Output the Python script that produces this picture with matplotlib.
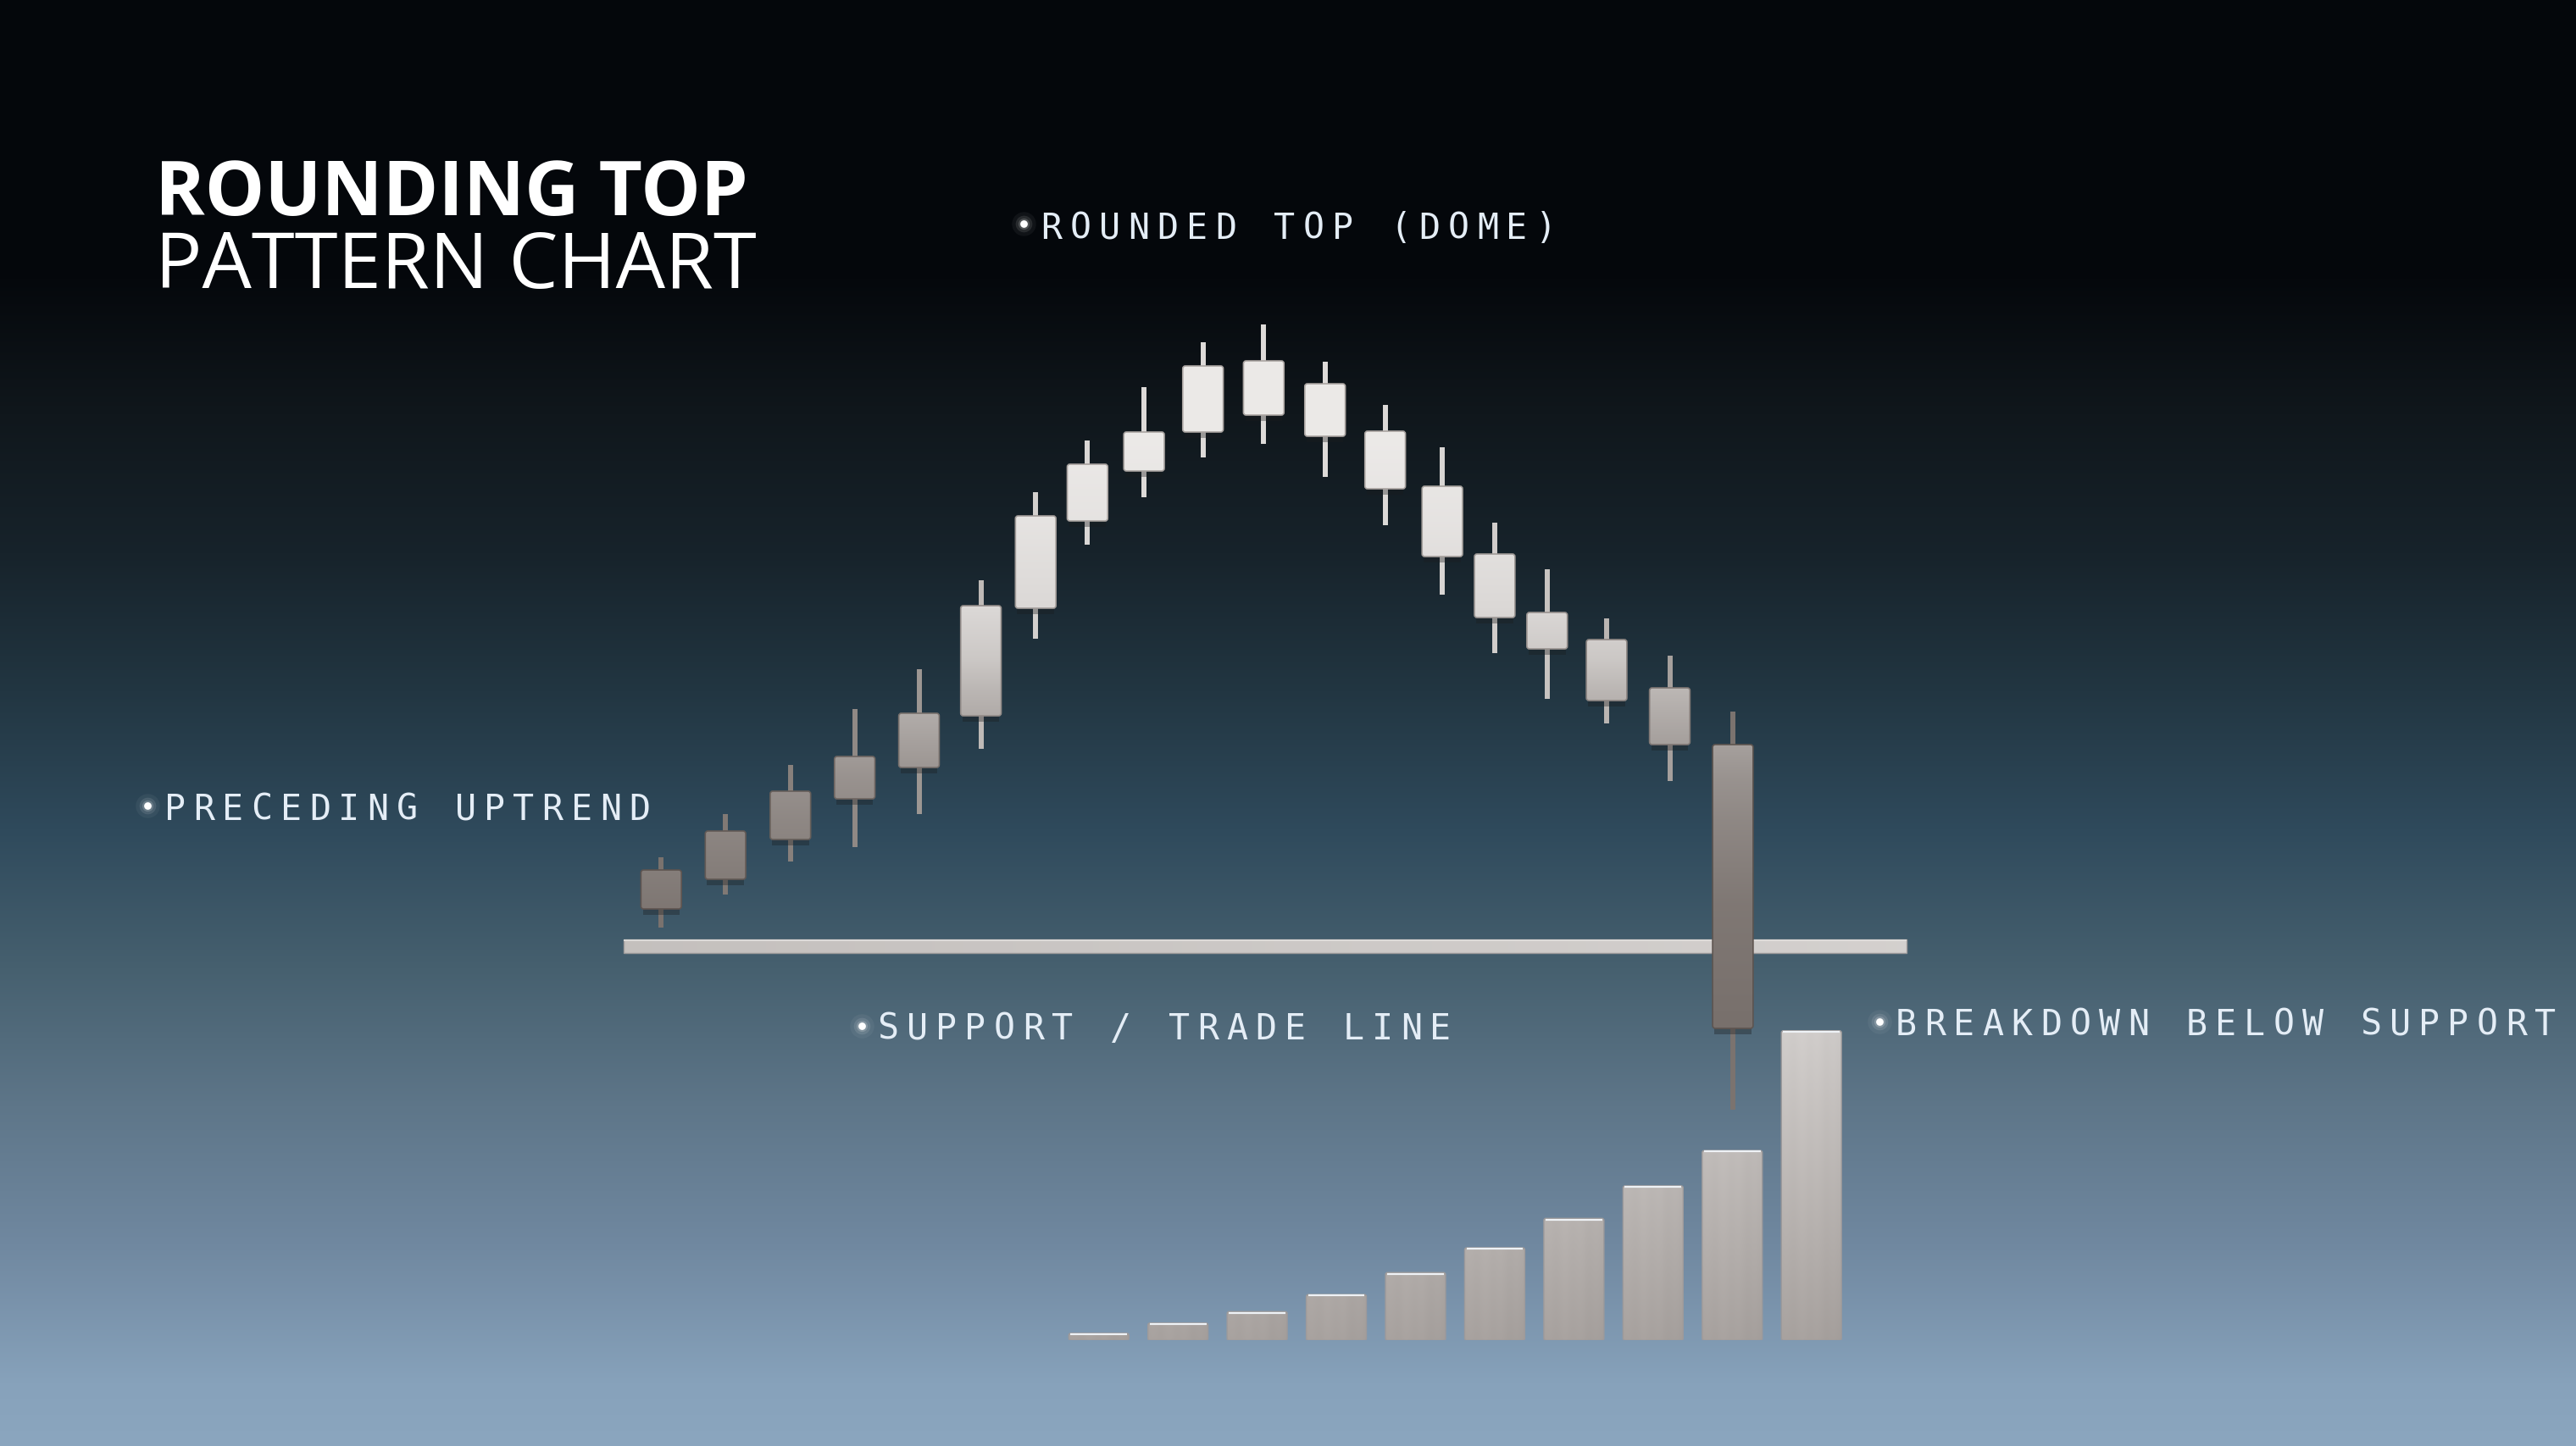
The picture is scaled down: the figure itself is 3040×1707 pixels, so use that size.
import numpy as np
import matplotlib
matplotlib.use("Agg")
import matplotlib.pyplot as plt
from matplotlib.patches import FancyBboxPatch, Rectangle

W, H, DPI = 3040, 1708, 100

# price candles: session position, open, high, low, close
session = [0.0, 1.08, 2.17, 3.25, 4.33, 5.37, 6.29, 7.16, 8.11, 9.10,
           10.12, 11.15, 12.16, 13.12, 14.0, 14.88, 15.88, 16.94, 18.0]
opens = [104.4, 107.9, 112.6, 117.4, 121.1, 127.2, 139.9, 150.2, 156.1, 160.7,
         169.1, 166.4, 160.8, 154.3, 146.3, 139.4, 136.2, 130.5, 123.8]
highs = [110.5, 115.6, 121.4, 128.0, 132.7, 143.2, 153.6, 159.7, 166.0, 171.3,
         173.4, 169.0, 163.9, 158.9, 150.0, 144.5, 138.7, 134.3, 127.7]
lows = [102.2, 106.1, 110.0, 111.7, 115.6, 123.3, 136.3, 147.4, 153.0, 157.7,
        159.3, 155.4, 149.7, 141.5, 134.6, 129.2, 126.3, 119.5, 80.7]
closes = [109.0, 113.6, 118.3, 122.4, 127.5, 140.2, 150.8, 156.9, 160.7, 168.5,
          162.7, 160.2, 154.0, 146.0, 138.8, 135.1, 129.0, 123.8, 90.3]

support = 100.0
support_from, support_to = -0.63, 20.92

# volume
vol_session = [7.35, 8.68, 10.01, 11.34, 12.67, 14.0, 15.33, 16.66, 17.99, 19.32]
volume = [2.3, 5.6, 9.3, 14.8, 21.9, 29.9, 39.4, 49.9, 61.3, 100.0]

labels = ["ROUNDED TOP (DOME)", "PRECEDING UPTREND", "SUPPORT / TRADE LINE",
          "BREAKDOWN BELOW SUPPORT"]

# look
BODY_W = 0.68
VOL_W = 1.01
PX_X = 1 / 70.26          # session units per pixel
PX_P = 0.1                # price units per pixel
PX_V = 1 / 3.656          # volume units per pixel
shade_p = [80, 90, 105, 110, 115, 120, 124, 130, 134, 140, 150, 160]
shade_v = [0.44, 0.47, 0.50, 0.53, 0.56, 0.60, 0.65, 0.73, 0.80, 0.86, 0.90, 0.925]


def metal(v):
    v = np.asarray(v, dtype=float)
    rgb = np.stack([v, v - 0.05 * (1 - v) - 0.005, v - 0.07 * (1 - v) - 0.01], axis=-1)
    return np.clip(rgb, 0, 1)


fig = plt.figure(figsize=(W / DPI, H / DPI), dpi=DPI)

# background gradient
bg = fig.add_axes([0, 0, 1, 1], zorder=0)
stops_y = [0, 330, 490, 654, 817, 980, 1144, 1307, 1470, 1634, 1708]
stops_c = ["#04070b", "#05080c", "#10171c", "#17232b", "#223642", "#2f4a5c",
           "#46606f", "#5e7689", "#7088a0", "#87a2bb", "#8ba6bf"]
rgb_stops = np.array([matplotlib.colors.to_rgb(c) for c in stops_c])
yy = np.arange(H)
grad = np.stack([np.interp(yy, stops_y, rgb_stops[:, k]) for k in range(3)], axis=-1)
bg.imshow(grad[:, None, :], aspect="auto", extent=(0, 1, 0, 1), interpolation="bilinear")
bg.axis("off")

# price axes
ax = fig.add_axes([0, 0, 1, 1], zorder=1)
ax.set_facecolor("none")
x_lo = -780.3 * PX_X
x_hi = (W - 780.3) * PX_X
p_hi = support + 1118 * PX_P
p_lo = support - (H - 1118) * PX_P

# support line
sup = Rectangle((support_from, support - 0.8), support_to - support_from, 1.6,
                fc="none", ec="#9e9b9b", lw=1.0, zorder=1.5)
ax.add_patch(sup)
sx = np.linspace(0, 1, 128)
sup_img = metal(0.77 + 0.06 * sx)[None, :, :]
im = ax.imshow(sup_img, extent=(support_from, support_to, support - 0.8, support + 0.8),
               origin="lower", aspect="auto", zorder=1.4, interpolation="bilinear")
im.set_clip_path(sup)
ax.hlines(support + 0.7, support_from, support_to, color="#e4e2e0", lw=1.2, zorder=1.6)

for t, o, h, l, c in zip(session, opens, highs, lows, closes):
    lo, hi = min(o, c), max(o, c)
    mid = (lo + hi) / 2
    v_mid = np.interp(mid, shade_p, shade_v)
    ax.vlines(t, l, h, color=metal(v_mid * 0.94), lw=4.3, zorder=2)
    # soft shadow under body
    ax.add_patch(Rectangle((t - BODY_W / 2 + 0.03, lo - 0.7), BODY_W - 0.06, 0.7,
                           fc="#1a1c1e", alpha=0.35, lw=0, zorder=2.5))
    body = FancyBboxPatch((t - BODY_W / 2, lo), BODY_W, hi - lo,
                          boxstyle="round,pad=0,rounding_size=0.045",
                          mutation_aspect=PX_P / PX_X,
                          fc="none", ec=metal(v_mid * 0.72), lw=1.2, zorder=4)
    ax.add_patch(body)
    prices = np.linspace(lo, hi, 80)
    img = metal(np.interp(prices, shade_p, shade_v))[:, None, :]
    im = ax.imshow(img, extent=(t - BODY_W / 2, t + BODY_W / 2, lo, hi), origin="lower",
                   aspect="auto", zorder=3, interpolation="bilinear")
    im.set_clip_path(body)

ax.set_xlim(x_lo, x_hi)
ax.set_ylim(p_lo, p_hi)
ax.axis("off")

# volume axes
vbot = (H - 1583.3) / H
vax = fig.add_axes([0, vbot, 1, 0.25], zorder=1)
vax.set_facecolor("none")
v_top = 0.25 * H * PX_V
for t, v in zip(vol_session, volume):
    bar = FancyBboxPatch((t - VOL_W / 2, 0), VOL_W, v,
                         boxstyle="round,pad=0,rounding_size=0.035",
                         mutation_aspect=PX_V / PX_X,
                         fc="none", ec="#9d9a9b", lw=1.0, zorder=4)
    vax.add_patch(bar)
    vv = np.linspace(0, v, 80)
    col = metal(0.655 + 0.0016 * vv)
    xs = np.linspace(0, 1, 40)
    streak = 1 + 0.006 * np.sin(xs * 23) + 0.015 * np.exp(-((xs - 0.45) / 0.3) ** 2) - 0.02 * xs
    img = col[:, None, :] * streak[None, :, None]
    im = vax.imshow(np.clip(img, 0, 1), extent=(t - VOL_W / 2, t + VOL_W / 2, 0, v),
                    origin="lower", aspect="auto", zorder=3, interpolation="bilinear")
    im.set_clip_path(bar)
    vax.hlines(v - 0.35, t - VOL_W / 2 + 0.03, t + VOL_W / 2 - 0.03, color="#eef2f6", lw=1.6, zorder=5)
vax.set_xlim(x_lo, x_hi)
vax.set_ylim(0, v_top)
vax.axis("off")

# overlay for text, pixel coordinates
ov = fig.add_axes([0, 0, 1, 1], zorder=5)
ov.set_facecolor("none")
ov.set_xlim(0, W)
ov.set_ylim(H, 0)
ov.axis("off")

ov.text(183, 254, "ROUNDING TOP", fontfamily="Open Sans", fontweight="bold",
        fontsize=64, color="white", va="baseline", ha="left")
ov.text(183, 340, "PATTERN CHART", fontfamily="Open Sans", fontweight="normal",
        fontsize=66.5, color="white", va="baseline", ha="left")

PITCH = 34.3
TXT = "#e4edf6"


def tag(x_dot, y_mid, first_center, baseline, s):
    for size, alpha in [(420, 0.05), (200, 0.10), (90, 0.18)]:
        ov.scatter([x_dot], [y_mid], s=size, color="white", alpha=alpha, lw=0, zorder=6)
    ov.scatter([x_dot], [y_mid], s=40, color="white", lw=0, zorder=7)
    for i, ch in enumerate(s):
        if ch != " ":
            ov.text(first_center + i * PITCH, baseline, ch, fontfamily="DejaVu Sans Mono",
                    fontsize=30, color=TXT, ha="center", va="baseline", zorder=7)


tag(1208, 265, 1241, 282, labels[0])
tag(174, 952, 206, 968, labels[1])
tag(1017, 1212, 1048, 1227, labels[2])
tag(2218, 1207, 2249, 1222, labels[3])

fig.savefig("out.png", dpi=DPI)
